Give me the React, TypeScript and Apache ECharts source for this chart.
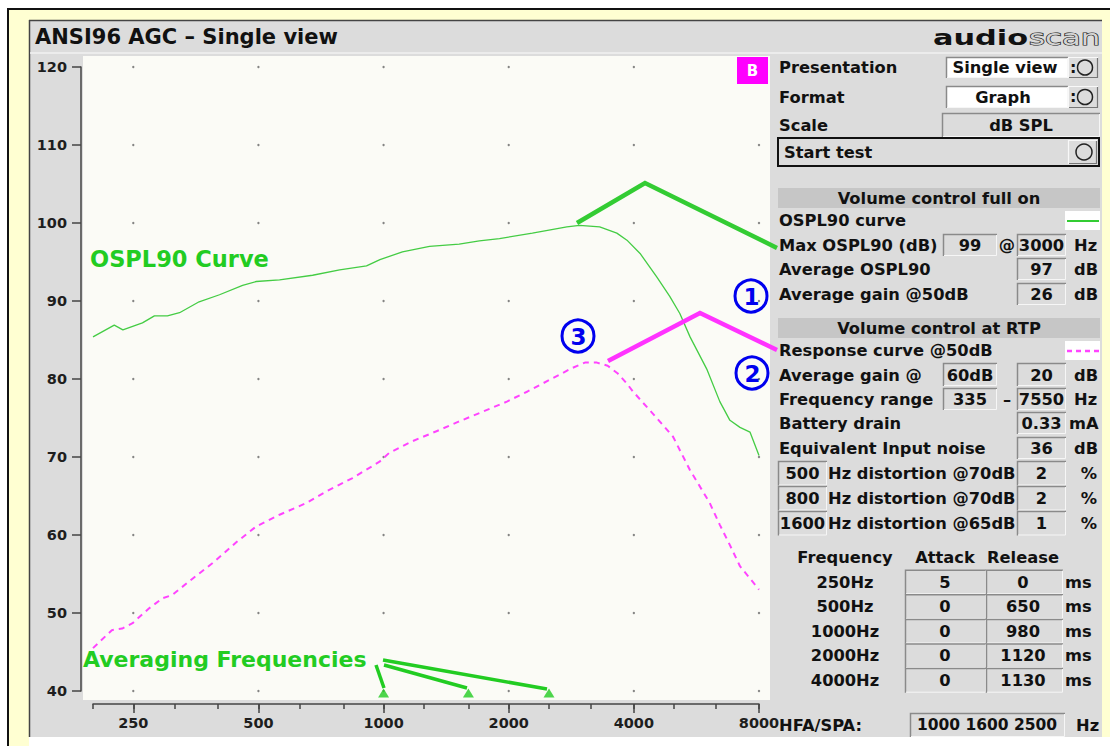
import React, { useEffect, useRef } from 'react';
import * as echarts from 'echarts';

// ---------- chart data ----------
const osplFreqs = [200, 225, 236, 263, 281, 302, 323, 360, 403, 458, 494, 562, 675, 784, 910, 980, 1110, 1290, 1520, 1700, 1900, 2280, 2760, 2960, 3310, 3640, 3850, 4140, 4540, 4880, 5160, 5460, 6000, 6440, 6810, 7200, 7610, 8000];
const osplDb = [85.4, 86.9, 86.3, 87.2, 88.1, 88.1, 88.5, 89.9, 90.8, 92.0, 92.5, 92.7, 93.3, 94.0, 94.5, 95.3, 96.3, 97.0, 97.3, 97.7, 98.0, 98.7, 99.5, 99.7, 99.5, 98.7, 97.8, 96.1, 93.1, 90.6, 88.4, 85.4, 81.2, 77.1, 74.7, 73.8, 73.2, 70.2];

const respFreqs = [200, 222, 235, 249, 273, 294, 310, 347, 388, 443, 494, 562, 652, 729, 842, 978, 1030, 1170, 1340, 1510, 1730, 1980, 2220, 2510, 2840, 3050, 3260, 3460, 3660, 3850, 3980, 4540, 4970, 5460, 5770, 6090, 6440, 6810, 7200, 8000];
const respDb = [45.5, 47.8, 48.0, 48.7, 50.6, 51.9, 52.3, 54.4, 56.4, 59.1, 61.1, 62.6, 64.1, 65.6, 67.3, 69.4, 70.5, 72.0, 73.3, 74.5, 75.8, 77.1, 78.4, 79.9, 81.4, 82.1, 82.1, 81.7, 80.7, 79.4, 78.4, 75.0, 72.6, 68.3, 66.2, 64.1, 61.3, 58.7, 56.0, 53.0];

const averagingFreqs = [1000, 1600, 2500];
const octaveLabels = [250, 500, 1000, 2000, 4000, 8000];
const thirdOctaveTicks = [200, 250, 315, 400, 500, 630, 800, 1000, 1250, 1600, 2000, 2500, 3150, 4000, 5000, 6300, 8000];
const dbTicks = [40, 50, 60, 70, 80, 90, 100, 110, 120];

// ---------- panel values ----------
const maxOspl = ['99', '3000'];
const avgOspl = '97';
const avgGain50 = '26';
const avgGainLevel = '60dB';
const avgGainRtp = '20';
const freqRange = ['335', '7550'];
const batteryDrain = '0.33';
const eiNoise = '36';
const distFreqs = ['500', '800', '1600'];
const distLevels = ['@70dB', '@70dB', '@65dB'];
const distPct = ['2', '2', '1'];
const arFreqs = ['250Hz', '500Hz', '1000Hz', '2000Hz', '4000Hz'];
const attackMs = ['5', '0', '0', '0', '0'];
const releaseMs = ['0', '650', '980', '1120', '1130'];
const hfaSpa = '1000 1600 2500';

const lg = (f: number) => Math.log2(f / 1000);
const XMIN = lg(200);
const XMAX = lg(8000);

const FONT = '"DejaVu Sans", sans-serif';
const PANEL = '#dcdcdc';
const GREEN = '#22cc22';
const MAGENTA = '#ff33ff';
const BLUE = '#0000ee';

function txt(text: string, x: number, y: number, o: any = {}) {
  const el: any = {
    type: 'text', x, y, z: o.z ?? 20, silent: true,
    style: {
      text, x: 0, y: 0,
      fill: o.fill || '#111',
      stroke: o.stroke,
      lineWidth: o.lineWidth,
      fontFamily: o.family || FONT,
      fontSize: o.size || 16.3,
      fontWeight: o.weight || 'bold',
      textAlign: o.align || 'left', align: o.align || 'left',
      textVerticalAlign: 'middle', verticalAlign: 'middle',
    },
  };
  if (o.scaleX) el.scaleX = o.scaleX;
  return el;
}
function rect(x: number, y: number, w: number, h: number, fill: string, z = 5, extra: any = {}) {
  return { type: 'rect', z, silent: true, shape: { x, y, width: w, height: h }, style: { fill, ...extra } };
}
function line(pts: number[][], stroke: string, lw: number, z = 5, extra: any = {}) {
  return { type: 'polyline', z, silent: true, shape: { points: pts }, style: { stroke, lineWidth: lw, fill: null, ...extra } };
}
function sunken(x: number, y: number, w: number, h: number, fill = PANEL) {
  return [
    rect(x, y, w, h, fill, 5),
    line([[x + 0.5, y + h], [x + 0.5, y + 0.5], [x + w, y + 0.5]], '#8a8a8a', 1.5, 6),
    line([[x + w - 0.5, y + 1], [x + w - 0.5, y + h - 0.5], [x + 1, y + h - 0.5]], '#f6f6f6', 1, 6),
  ];
}
function raised(x: number, y: number, w: number, h: number) {
  return [
    rect(x, y, w, h, PANEL, 5),
    line([[x + 0.5, y + h], [x + 0.5, y + 0.5], [x + w, y + 0.5]], '#f8f8f8', 1.2, 6),
    line([[x + w - 0.5, y + 1], [x + w - 0.5, y + h - 0.5], [x + 1, y + h - 0.5]], '#777', 1.2, 6),
  ];
}
function circ(cx: number, cy: number, r: number, stroke: string, lw: number, z = 8) {
  return { type: 'circle', z, silent: true, shape: { cx, cy, r }, style: { fill: 'transparent', stroke, lineWidth: lw } };
}

function buildGraphics() {
  const E: any[] = [];
  // page / frame backgrounds
  E.push(rect(0, 0, 1110, 746, '#ffffff', -10));
  E.push(rect(8, 9, 1102, 737, '#ffffd2', -10));
  E.push(rect(29, 20, 1073, 717, PANEL, -10));
  E.push(rect(29, 737, 1081, 9, '#ffffff', -10));
  E.push(line([[7, 9], [1110, 9]], '#111', 2, -9));
  E.push(line([[8, 9], [8, 746]], '#111', 2, -9));
  E.push(line([[29, 20.5], [1102, 20.5]], '#444', 1.5, -9));
  E.push(line([[29.5, 20], [29.5, 737]], '#444', 1.5, -9));
  E.push(line([[30, 53], [1102, 53]], '#f2f2f2', 1.5, -9));
  // plot background
  E.push(rect(83, 56, 687, 644, '#fbfbf6', -8));

  // title + logo
  E.push(txt('ANSI96 AGC \u2013 Single view', 35, 36.5, { size: 21 }));
  E.push(txt('audio', 933, 37.4, { size: 22, scaleX: 1.38, weight: 'bold' }));
  E.push(txt('scan', 1029, 37.4, { size: 22, scaleX: 1.4, weight: 'normal', fill: '#d4d4d4', stroke: '#222', lineWidth: 1.2 }));

  // B marker
  E.push(rect(737, 57, 31, 27, '#ff00ff', 5));
  E.push(txt('B', 752.5, 70.5, { size: 15, fill: '#ffffff', align: 'center' }));

  // controls
  E.push(txt('Presentation', 779, 67.5));
  E.push(...sunken(946, 57, 122, 21, '#ffffff'));
  E.push(txt('Single view', 1005, 67.5, { align: 'center' }));
  E.push(...raised(1068, 57, 30, 21));
  E.push(txt(':', 1070, 67, { size: 16 }));
  E.push(circ(1085, 67.5, 7.5, '#222', 1.5));

  E.push(txt('Format', 779, 97));
  E.push(...sunken(946, 86, 122, 22, '#ffffff'));
  E.push(txt('Graph', 1003, 97, { align: 'center' }));
  E.push(...raised(1068, 86, 30, 22));
  E.push(txt(':', 1070, 96.5, { size: 16 }));
  E.push(circ(1085, 97, 7.5, '#222', 1.5));

  E.push(txt('Scale', 779, 125));
  E.push(...sunken(942, 113, 158, 24));
  E.push(txt('dB SPL', 1021, 125, { align: 'center' }));

  E.push(rect(778, 138, 321, 28, PANEL, 5, { stroke: '#111', lineWidth: 2 }));
  E.push(txt('Start test', 784, 152));
  E.push(...raised(1068, 140, 29, 24));
  E.push(circ(1084, 152, 8, '#222', 1.5));

  // section: volume control full on
  E.push(rect(778, 188, 322, 20, '#c6c6c6', 5));
  E.push(txt('Volume control full on', 939, 198, { align: 'center' }));
  E.push(txt('OSPL90 curve', 779, 220));
  E.push(rect(1065, 211, 35, 19, '#ffffff', 5));
  E.push(line([[1067, 221], [1099, 221]], '#33cc33', 2, 6));

  E.push(txt('Max OSPL90 (dB)', 779, 245));
  E.push(...sunken(943, 234, 54, 22));
  E.push(txt(maxOspl[0], 970, 245, { align: 'center' }));
  E.push(txt('@', 1007, 245, { align: 'center' }));
  E.push(...sunken(1017, 234, 49, 22));
  E.push(txt(maxOspl[1], 1041.5, 245, { align: 'center' }));
  E.push(txt('Hz', 1074, 245));

  E.push(txt('Average OSPL90', 779, 269));
  E.push(...sunken(1017, 258, 49, 22));
  E.push(txt(avgOspl, 1041.5, 269, { align: 'center' }));
  E.push(txt('dB', 1074, 269));

  E.push(txt('Average gain @50dB', 779, 294));
  E.push(...sunken(1017, 283, 49, 22));
  E.push(txt(avgGain50, 1041.5, 294, { align: 'center' }));
  E.push(txt('dB', 1074, 294));

  // section: volume control at RTP
  E.push(rect(778, 318, 322, 20, '#c6c6c6', 5));
  E.push(txt('Volume control at RTP', 939, 328, { align: 'center' }));
  E.push(txt('Response curve @50dB', 779, 350));
  E.push(rect(1065, 341, 35, 19, '#ffffff', 5));
  E.push(line([[1067, 351], [1099, 351]], '#ff44ff', 2.5, 6, { lineDash: [5, 4] }));

  E.push(txt('Average gain @', 779, 375));
  E.push(...sunken(943, 363, 54, 23));
  E.push(txt(avgGainLevel, 970, 375, { align: 'center' }));
  E.push(...sunken(1017, 363, 49, 23));
  E.push(txt(avgGainRtp, 1041.5, 375, { align: 'center' }));
  E.push(txt('dB', 1074, 375));

  E.push(txt('Frequency range', 779, 399));
  E.push(...sunken(943, 388, 54, 22));
  E.push(txt(freqRange[0], 970, 399, { align: 'center' }));
  E.push(txt('\u2013', 1007, 399, { align: 'center' }));
  E.push(...sunken(1017, 388, 49, 22));
  E.push(txt(freqRange[1], 1041.5, 399, { align: 'center' }));
  E.push(txt('Hz', 1074, 399));

  E.push(txt('Battery drain', 779, 423));
  E.push(...sunken(1017, 412, 49, 22));
  E.push(txt(batteryDrain, 1041.5, 423, { align: 'center' }));
  E.push(txt('mA', 1069, 423));

  E.push(txt('Equivalent Input noise', 779, 448));
  E.push(...sunken(1017, 437, 49, 22));
  E.push(txt(eiNoise, 1041.5, 448, { align: 'center' }));
  E.push(txt('dB', 1074, 448));

  distFreqs.forEach((f, i) => {
    const y = 473 + i * 25;
    E.push(...sunken(778, y - 12, 49, 24.5));
    E.push(txt(f, 802.5, y, { align: 'center' }));
    E.push(txt('Hz distortion ' + distLevels[i], 828, y));
    E.push(...sunken(1017, y - 12, 49, 24.5));
    E.push(txt(distPct[i], 1041.5, y, { align: 'center' }));
    E.push(txt('%', 1089, y, { align: 'center' }));
  });

  // attack / release table
  E.push(txt('Frequency', 845, 557, { align: 'center' }));
  E.push(txt('Attack', 945, 557, { align: 'center' }));
  E.push(txt('Release', 1023, 557, { align: 'center' }));
  arFreqs.forEach((f, i) => {
    const y = 582 + i * 24.6;
    E.push(txt(f, 845, y, { align: 'center' }));
    E.push(...sunken(905, y - 12.3, 81, 24.6));
    E.push(txt(attackMs[i], 945, y, { align: 'center' }));
    E.push(...sunken(986, y - 12.3, 77, 24.6));
    E.push(txt(releaseMs[i], 1023, y, { align: 'center' }));
    E.push(txt('ms', 1065, y));
  });

  E.push(txt('HFA/SPA:', 779, 725));
  E.push(...sunken(910, 713, 155, 24));
  E.push(txt(hfaSpa, 987, 725, { align: 'center', size: 15.5 }));
  E.push(txt('Hz', 1076, 725));

  // plot annotations
  E.push(txt('OSPL90 Curve', 90, 259, { size: 22.5, fill: GREEN, z: 30 }));
  E.push(txt('Averaging Frequencies', 83, 659, { size: 22, fill: GREEN, z: 30 }));
  E.push(line([[577, 223], [645, 183], [777, 248]], '#33cc33', 4.5, 30));
  E.push(line([[608, 361], [700, 313], [777, 350]], MAGENTA, 4.5, 30));
  E.push(line([[376, 665], [384, 688]], GREEN, 3.5, 30));
  E.push(line([[384, 665], [467, 688]], GREEN, 3.5, 30));
  E.push(line([[383, 660], [547, 689]], GREEN, 3.5, 30));

  const marks: [string, number, number][] = [['1', 751, 296], ['2', 752, 373], ['3', 578, 336]];
  marks.forEach(([d, cx, cy]) => {
    E.push(circ(cx, cy, 16, BLUE, 3, 30));
    E.push(txt(d, cx + 0.5, cy + 0.5, { size: 23, fill: BLUE, align: 'center', z: 31 }));
  });
  return E;
}

export default function App() {
  const ref = useRef<HTMLDivElement>(null);
  useEffect(() => {
    const chart = echarts.init(ref.current!, null, { renderer: 'svg' });
    const dotData: number[][] = [];
    octaveLabels.forEach((f) => dbTicks.forEach((d) => dotData.push([lg(f), d])));
    const tickStyle = { color: '#444', width: 1.5 };
    const labelStyle = { color: '#1e1e1e', fontFamily: FONT, fontSize: 14.5, fontWeight: 'bold' };
    const option: any = {
      animation: false,
      backgroundColor: 'transparent',
      graphic: { elements: buildGraphics() },
      grid: { left: 93, right: 351, top: 67, bottom: 55, containLabel: false },
      xAxis: [
        {
          type: 'value', min: XMIN, max: XMAX, position: 'bottom', offset: 13,
          axisLine: { show: true, onZero: false, lineStyle: tickStyle },
          axisTick: { show: true, length: 5, customValues: thirdOctaveTicks.map(lg), lineStyle: tickStyle },
          axisLabel: { ...labelStyle, margin: 11, customValues: octaveLabels.map(lg), formatter: (v: number) => String(Math.round(1000 * Math.pow(2, v))) },
          splitLine: { show: false },
        },
        {
          type: 'value', min: XMIN, max: XMAX, position: 'bottom', offset: 13,
          axisLine: { show: false, onZero: false },
          axisTick: { show: true, length: 9, customValues: octaveLabels.map(lg), lineStyle: tickStyle },
          axisLabel: { show: false },
          splitLine: { show: false },
        },
      ],
      yAxis: {
        type: 'value', min: 40, max: 120, interval: 10, offset: 12,
        axisLine: { show: true, onZero: false, lineStyle: tickStyle },
        axisTick: { show: true, length: 9, lineStyle: tickStyle },
        axisLabel: { ...labelStyle, margin: 14 },
        splitLine: { show: false },
      },
      series: [
        {
          type: 'scatter', data: dotData, symbol: 'circle', symbolSize: 2.4, silent: true,
          itemStyle: { color: '#666' }, z: 1,
        },
        {
          name: 'OSPL90 curve', type: 'line', showSymbol: false, silent: true,
          data: osplFreqs.map((f, i) => [lg(f), osplDb[i]]),
          lineStyle: { color: '#44cc44', width: 1.3 }, z: 3,
        },
        {
          name: 'Response curve @50dB', type: 'line', showSymbol: false, silent: true,
          data: respFreqs.map((f, i) => [lg(f), respDb[i]]),
          lineStyle: { color: '#ff44ff', width: 2, type: [6, 5] }, z: 3,
        },
        {
          name: 'Averaging Frequencies', type: 'scatter', symbol: 'triangle', symbolSize: [11, 9],
          symbolOffset: [0, 2], clip: false, silent: true,
          data: averagingFreqs.map((f) => [lg(f), 40]),
          itemStyle: { color: GREEN }, z: 4,
        },
      ],
    };
    chart.setOption(option);
    return () => chart.dispose();
  }, []);
  return <div ref={ref} style={{ position: 'absolute', left: 0, top: 0, width: 1110, height: 746 }} />;
}
